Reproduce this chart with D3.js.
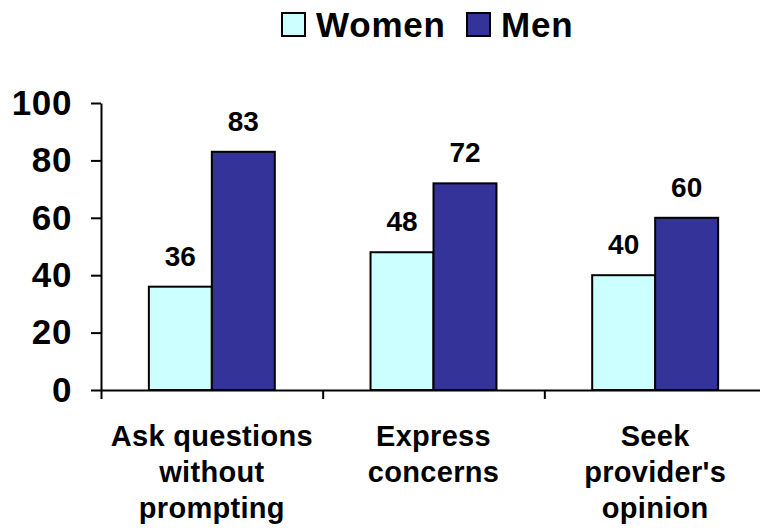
<!DOCTYPE html>
<html>
<head>
<meta charset="utf-8">
<script src="https://cdn.jsdelivr.net/npm/d3@7"></script>
<style>
  body { margin: 0; background: #fff; }
  svg { display: block; font-family: "Liberation Sans", Arial, sans-serif; font-weight: bold; }
</style>
</head>
<body>
<svg id="chart" width="760" height="528"></svg>
<script>
const categories = [
  ['Ask questions', 'without', 'prompting'],
  ['Express', 'concerns'],
  ['Seek', "provider's", 'opinion']
];
const seriesNames = ['Women', 'Men'];
const women = [36, 48, 40];
const men = [83, 72, 60];
const yTicks = [0, 20, 40, 60, 80, 100];
const colors = { Women: '#ccffff', Men: '#333399' };

const svg = d3.select('#chart');
const plotLeft = 101, plotRight = 766, plotTop = 103, plotBottom = 390;

const catKeys = categories.map((c, i) => i);
const x0 = d3.scaleBand().domain(catKeys).range([plotLeft, plotRight]).padding(0);
const x1 = d3.scaleBand().domain(seriesNames).range([0, x0.bandwidth()])
  .paddingInner(0).paddingOuter(0.76);
const y = d3.scaleLinear().domain([0, 100]).range([plotBottom, plotTop]);

// y axis
const yAxis = svg.append('g')
  .attr('transform', `translate(${plotLeft},0)`)
  .call(d3.axisLeft(y).tickValues(yTicks).tickSize(10).tickSizeOuter(0).tickPadding(19));
yAxis.select('.domain').attr('stroke', '#000').attr('stroke-width', 2);
yAxis.selectAll('.tick line').attr('stroke', '#000').attr('stroke-width', 2);
yAxis.selectAll('.tick text')
  .attr('fill', '#000')
  .style('font-size', '35px')
  .style('letter-spacing', '0.6px')
  .style('font-weight', 'bold')
  .style('font-family', '"Liberation Sans", Arial, sans-serif');

// bars
const groups = svg.append('g').selectAll('g')
  .data(catKeys)
  .join('g')
  .attr('transform', d => `translate(${x0(d)},0)`);

groups.selectAll('rect')
  .data(i => [{ s: 'Women', v: women[i] }, { s: 'Men', v: men[i] }])
  .join('rect')
  .attr('x', d => x1(d.s))
  .attr('y', d => y(d.v))
  .attr('width', x1.bandwidth())
  .attr('height', d => y(0) - y(d.v))
  .attr('fill', d => colors[d.s])
  .attr('stroke', '#000')
  .attr('stroke-width', 2);

groups.selectAll('text.val')
  .data(i => [{ s: 'Women', v: women[i] }, { s: 'Men', v: men[i] }])
  .join('text')
  .attr('class', 'val')
  .attr('x', d => x1(d.s) + x1.bandwidth() / 2)
  .attr('y', d => y(d.v) - 21)
  .attr('text-anchor', 'middle')
  .style('font-size', '28px')
  .text(d => d.v);

// x axis with ticks at category boundaries
const xb = d3.scaleLinear().domain([0, categories.length]).range([plotLeft, plotRight]);
const xAxis = svg.append('g')
  .attr('transform', `translate(0,${plotBottom})`)
  .call(d3.axisBottom(xb).tickValues(d3.range(categories.length + 1)).tickFormat('').tickSize(9).tickSizeOuter(0));
xAxis.select('.domain').attr('stroke', '#000').attr('stroke-width', 2);
xAxis.selectAll('.tick line').attr('stroke', '#000').attr('stroke-width', 2);

// category labels
svg.append('g').selectAll('text')
  .data(catKeys)
  .join('text')
  .attr('text-anchor', 'middle')
  .style('font-size', '29px')
  .style('letter-spacing', '0.3px')
  .each(function (i) {
    const t = d3.select(this);
    categories[i].forEach((line, k) => {
      t.append('tspan')
        .attr('x', x0(i) + x0.bandwidth() / 2)
        .attr('y', 446 + k * 36)
        .text(line);
    });
  });

// legend
const legendX = [282, 467];
const legend = svg.append('g').selectAll('g')
  .data(seriesNames)
  .join('g')
  .attr('transform', (d, i) => `translate(${legendX[i]},13)`);
legend.append('rect')
  .attr('width', 23).attr('height', 23)
  .attr('fill', d => colors[d])
  .attr('stroke', '#000').attr('stroke-width', 2);
legend.append('text')
  .attr('x', 34).attr('y', 24)
  .style('font-size', '35px')
  .style('letter-spacing', '0.8px')
  .text(d => d);
</script>
</body>
</html>
